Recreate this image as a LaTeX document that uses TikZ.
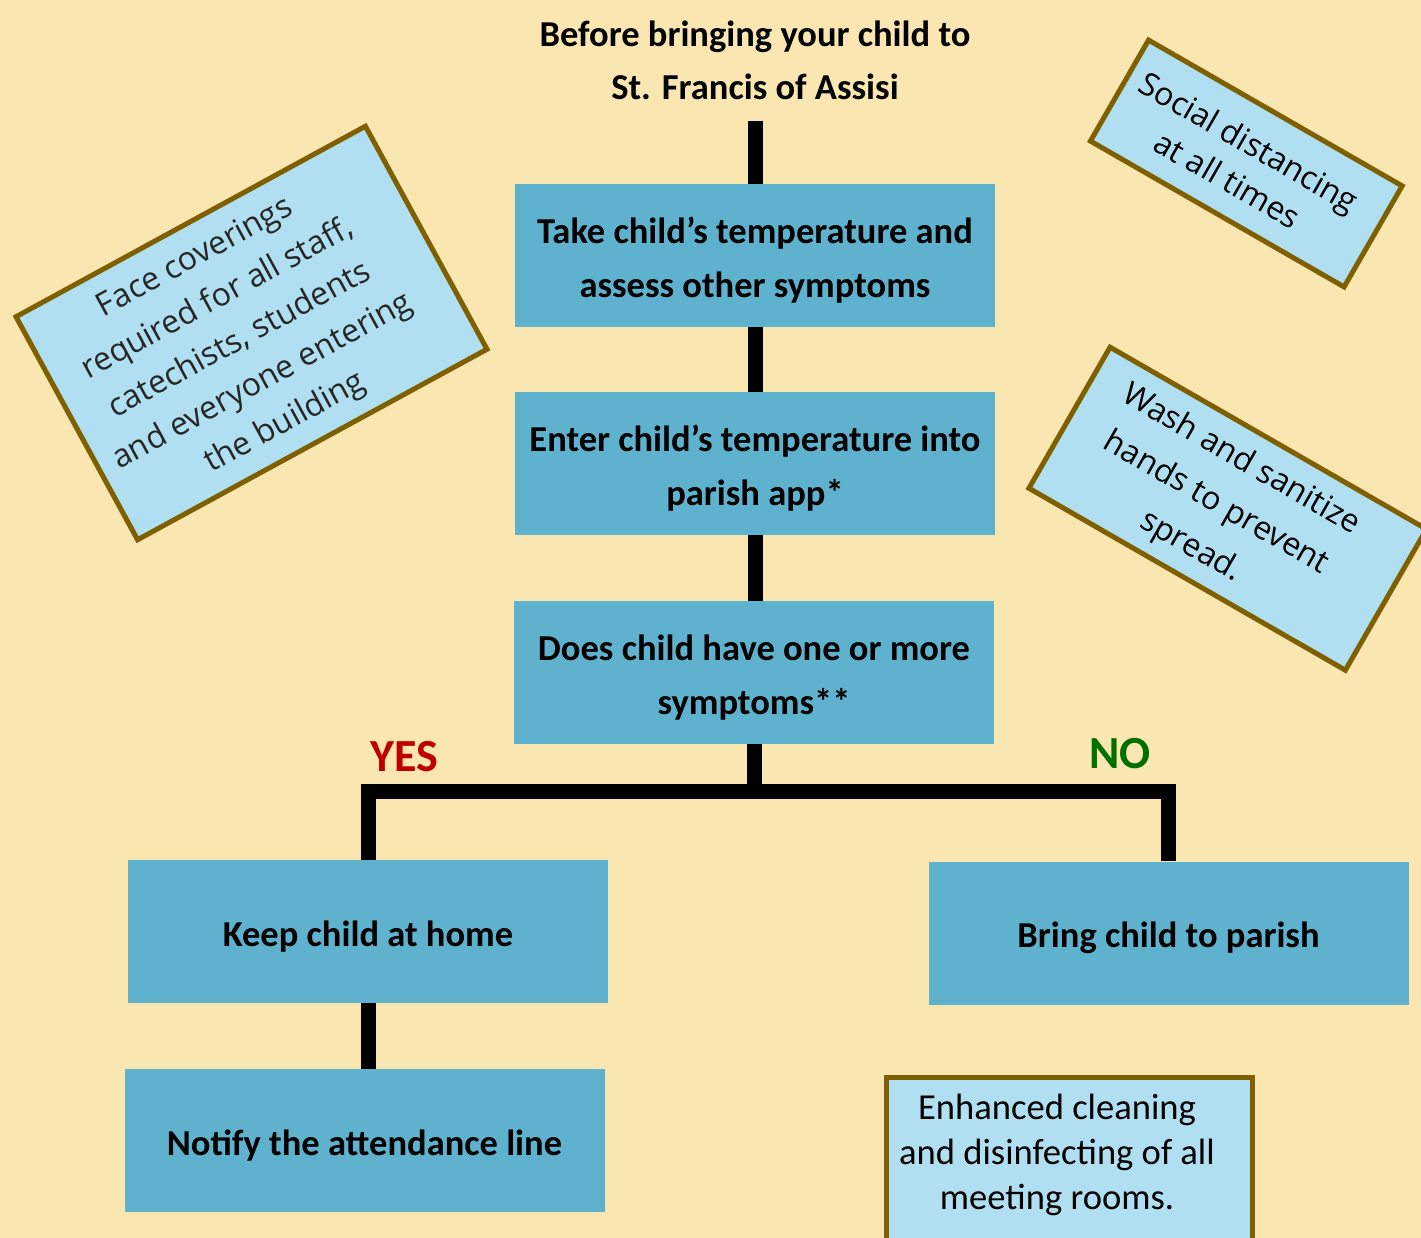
\documentclass[tikz,border=0pt]{standalone}
\usepackage{fontspec}
\setmainfont{Carlito}
\newfontfamily\notefont{Open Sans}
\newcommand\toppad{\rule{0pt}{35pt}}
\definecolor{bg}{RGB}{250,230,177}
\definecolor{boxblue}{RGB}{95,178,206}
\definecolor{noteblue}{RGB}{176,223,241}
\definecolor{notebrown}{RGB}{127,96,0}
\definecolor{yescol}{RGB}{192,0,0}
\definecolor{nocol}{RGB}{0,112,0}
\begin{document}
\begin{tikzpicture}[x=1pt,y=-1pt,
  stepbox/.style={fill=boxblue, draw=none, minimum width=480pt, minimum height=143pt,
    inner sep=0pt, align=center, font=\fontsize{36.5}{54}\selectfont\bfseries},
  note/.style={fill=noteblue, draw=notebrown, line width=5pt, inner sep=0pt},
  notetext/.style={align=center, inner sep=0pt},
  conn/.style={line width=15pt, line join=miter}]
\clip (0,0) rectangle (1421,1238);
\fill[bg] (0,0) rectangle (1421,1238);

\node[align=center, inner sep=0pt, font=\fontsize{36.5}{53}\selectfont\bfseries] (title) at (755,60.5)
  {Before bringing your child to\\St. Francis of Assisi};

\node[stepbox] (s1) at (755,255.5) {\toppad Take child’s temperature and\\assess other symptoms};
\node[stepbox] (s2) at (755,463.5) {\toppad Enter child’s temperature into\\parish app*};
\node[stepbox] (s3) at (754,672.5) {\toppad Does child have one or more\\symptoms**};
\node[stepbox] (keep) at (368,931.5) {\toppad Keep child at home};
\node[stepbox] (notify) at (364.5,1140.5) {\toppad Notify the attendance line};
\node[stepbox] (bring) at (1168.5,933) {\toppad Bring child to parish};

\node[inner sep=0pt, text=yescol, font=\fontsize{46}{50}\selectfont\bfseries] (yes) at (404,757) {YES};
\node[inner sep=0pt, text=nocol, font=\fontsize{46}{50}\selectfont\bfseries] (no) at (1120,753.5) {NO};

\coordinate (top) at (755,121);
\coordinate (j) at (754,791);
\draw[conn] (top) -- (s1.north);
\draw[conn] (s1.south) -- (s2.north);
\draw[conn] (s2.south) -- (s2.south |- s3.north);
\draw[conn] (s3.south) -- (j);
\draw[conn] (keep.north) |- (j) -| (bring.north);
\draw[conn] (keep.south) -- (keep.south |- notify.north);

\node[note, rotate=28.6, minimum width=398pt, minimum height=254pt] (face) at (251.5,333) {};
\node[notetext, rotate=28.6, text=black!85, font=\notefont\fontsize{32}{47}\selectfont] (facetext) at (240.5,341)
  {Face coverings\\required for all staff,\\catechists, students\\and everyone entering\\the building};
\node[note, rotate=-29.9, minimum width=292.6pt, minimum height=116.5pt] (social) at (1246.3,163.5) {};
\node[notetext, rotate=-29.9, font=\notefont\fontsize{32}{43}\selectfont] (socialtext) at (1238.3,160.5)
  {Social distancing\\at all times};
\node[note, rotate=-29.9, minimum width=365pt, minimum height=162.7pt] (wash) at (1227.7,508.7) {};
\node[notetext, rotate=-29.9, font=\notefont\fontsize{32}{50}\selectfont] (washtext) at (1215.7,503.7)
  {Wash and sanitize\\hands to prevent\\spread.};

\node[note, minimum width=366pt, minimum height=300pt, anchor=north] (cleanbox) at (1069.5,1074.5) {};
\node[align=center, inner sep=0pt, anchor=north, font=\fontsize{36.6}{45}\selectfont] (clean) at (1057,1094)
  {Enhanced cleaning\\and disinfecting of all\\meeting rooms.};
\end{tikzpicture}
\end{document}
